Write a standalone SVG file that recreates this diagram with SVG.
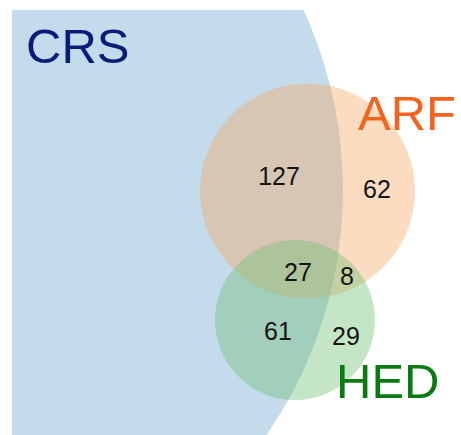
<svg xmlns="http://www.w3.org/2000/svg" width="461" height="435" viewBox="0 0 461 435">
<style>
.num{font-family:"Liberation Sans",Arial,sans-serif;font-size:25px;fill:#141414;text-anchor:middle}
.lbl{font-family:"Liberation Sans",Arial,sans-serif;font-size:49px}
</style>
<defs>
<clipPath id="crsclip"><rect x="12" y="10" width="449" height="425"/></clipPath>
</defs>
<rect width="461" height="435" fill="#ffffff"/>
<g id="crs">
<circle cx="-87" cy="190" r="430" fill="#c4dbeb" clip-path="url(#crsclip)"/>
<text class="lbl" x="26" y="63" fill="#0c1a78">CRS</text>
</g>
<g id="arf">
<circle cx="307.5" cy="191" r="107.5" fill="#f7a865" fill-opacity="0.4"/>
<text class="lbl" x="358" y="130" fill="#f36421">ARF</text>
</g>
<g id="hed">
<circle cx="295" cy="320" r="80" fill="#6fbf73" fill-opacity="0.4"/>
<text class="lbl" x="336" y="398" fill="#0b7a10">HED</text>
</g>
<g id="counts">
<text class="num" x="279" y="185">127</text>
<text class="num" x="377" y="198">62</text>
<text class="num" x="298" y="281">27</text>
<text class="num" x="347" y="285">8</text>
<text class="num" x="278" y="340">61</text>
<text class="num" x="346" y="345">29</text>
</g>
</svg>
